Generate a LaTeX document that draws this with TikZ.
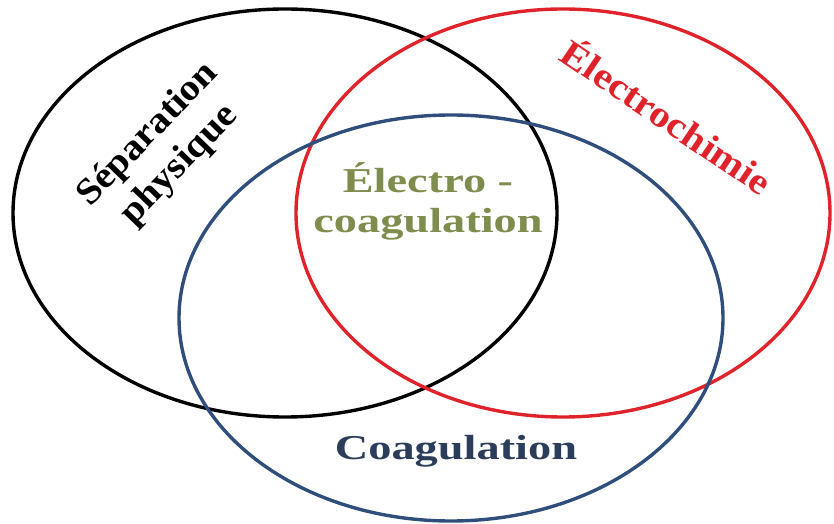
\documentclass[tikz,border=0pt]{standalone}
\usepackage{fontspec}
\setmainfont{Liberation Serif}
\usetikzlibrary{shapes.geometric}
\definecolor{VennRed}{HTML}{E0232B}
\definecolor{VennBlue}{HTML}{2F4E7C}
\definecolor{NavyText}{HTML}{2C3D5B}
\definecolor{OliveText}{HTML}{7E8D4D}

\begin{document}
\begin{tikzpicture}[x=1bp,y=-1bp,
    ring/.style={draw,ellipse,line width=3.4bp,inner sep=0pt,
                 minimum width=544bp,minimum height=408bp},
    lbl/.style={font=\bfseries\fontsize{35}{40}\selectfont,align=center,
                inner sep=0pt,xscale=1.33},
    tilted/.style={font=\bfseries\fontsize{37}{44}\selectfont,align=center,
                inner sep=0pt,rotate=#1,xscale=1.08}]
    \useasboundingbox (0,0) rectangle (834,524);
    \node[ring] (sep) at (285,213) {};
    \node[ring,VennRed,minimum width=534bp] (elec) at (563,213) {};
    \node[ring,VennBlue,minimum height=406bp] (coag) at (451,318) {};
    \node[tilted=46] (septxt) at (164,150) {Séparation\\physique};
    \node[tilted=-34,text=VennRed,xscale=1.04] (electxt) at (668,115) {Électrochimie};
    \node[lbl,text=OliveText] (ectxt) at (428,201) {Électro -\\coagulation};
    \node[lbl,text=NavyText] (coagtxt) at (456,451) {Coagulation};
\end{tikzpicture}
\end{document}
